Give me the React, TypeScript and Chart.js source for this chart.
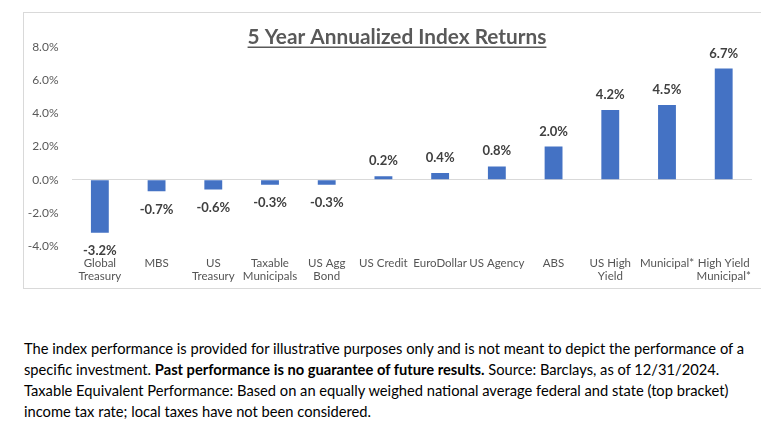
import React, { useEffect, useRef } from "react";
import { Chart, registerables } from "chart.js";

Chart.register(...registerables);

const categories: (string | string[])[] = [
  ["Global", "Treasury"],
  "MBS",
  ["US", "Treasury"],
  ["Taxable", "Municipals"],
  ["US Agg", "Bond"],
  "US Credit",
  "EuroDollar",
  "US Agency",
  "ABS",
  ["US High", "Yield"],
  "Municipal*",
  ["High Yield", "Municipal*"],
];

const returns: number[] = [-3.2, -0.7, -0.6, -0.3, -0.3, 0.2, 0.4, 0.8, 2.0, 4.2, 4.5, 6.7];

const yTicks: number[] = [-4, -2, 0, 2, 4, 6, 8];

const chartTitle = "5 Year Annualized Index Returns";

const FONT = "Lato, 'Noto Sans', sans-serif";

const labelPlugin = {
  id: "valueLabels",
  afterDatasetsDraw(chart: any) {
    const ctx = chart.ctx;
    const meta = chart.getDatasetMeta(0);
    const data = chart.data.datasets[0].data as number[];
    ctx.save();
    ctx.font = `bold 13px ${FONT}`;
    ctx.fillStyle = "#404040";
    ctx.textAlign = "center";
    ctx.textBaseline = "alphabetic";
    meta.data.forEach((bar: any, i: number) => {
      const v = data[i];
      const txt = v.toFixed(1) + "%";
      if (v >= 0) {
        ctx.fillText(txt, bar.x, bar.y - 11);
      } else {
        ctx.fillText(txt, bar.x, bar.y + 22.5);
      }
    });
    ctx.restore();
  },
};

const titlePlugin = {
  id: "ulTitle",
  afterDraw(chart: any) {
    const ctx = chart.ctx;
    ctx.save();
    ctx.font = `bold 20.8px ${FONT}`;
    ctx.fillStyle = "#595959";
    ctx.textAlign = "center";
    ctx.textBaseline = "alphabetic";
    const cx = 373;
    const by = 31;
    ctx.fillText(chartTitle, cx, by);
    const w = ctx.measureText(chartTitle).width;
    ctx.fillRect(cx - w / 2, by + 2.5, w, 1.5);
    ctx.restore();
  },
};

export default function App() {
  const ref = useRef<HTMLCanvasElement | null>(null);

  useEffect(() => {
    if (!ref.current) return;
    const chart = new Chart(ref.current, {
      type: "bar",
      data: {
        labels: categories,
        datasets: [
          {
            data: returns,
            backgroundColor: "#4472C4",
            barPercentage: 0.63,
            categoryPercentage: 0.5,
          },
        ],
      },
      options: {
        animation: false,
        responsive: true,
        maintainAspectRatio: false,
        layout: { padding: { top: 34, right: 5, left: 0, bottom: 0 } },
        plugins: {
          legend: { display: false },
          tooltip: { enabled: false },
          title: { display: false },
        },
        scales: {
          x: {
            grid: { display: false, drawTicks: false },
            border: { display: false },
            afterFit(scale: any) {
              scale.height = 42;
            },
            ticks: {
              color: "#555555",
              font: { family: FONT, size: 11.5, lineHeight: 1.2 },
              padding: 10,
              maxRotation: 0,
              autoSkip: false,
            },
          },
          y: {
            min: -4,
            max: 8,
            afterFit(scale: any) {
              scale.width = 47.5;
            },
            afterBuildTicks(scale: any) {
              scale.ticks = yTicks.map((v) => ({ value: v }));
            },
            grid: {
              drawTicks: false,
              color: (c: any) => (c.tick && c.tick.value === 0 ? "#d9d9d9" : "rgba(0,0,0,0)"),
              lineWidth: 1,
            },
            border: { display: false },
            ticks: {
              color: "#595959",
              font: { family: FONT, size: 12 },
              padding: 13,
              callback: (v: any) => Number(v).toFixed(1) + "%",
            },
          },
        },
      },
      plugins: [labelPlugin, titlePlugin],
    });
    return () => chart.destroy();
  }, []);

  return (
    <div style={{ position: "absolute", left: 0, top: 0, width: 761, height: 432, background: "#fff", overflow: "hidden" }}>
      <div
        style={{
          position: "absolute",
          left: 23,
          top: 12,
          width: 738,
          height: 277,
          boxSizing: "border-box",
          borderTop: "1px solid #d9d9d9",
          borderLeft: "1px solid #d9d9d9",
          borderBottom: "1px solid #d9d9d9",
        }}
      >
        <canvas ref={ref} />
      </div>
      <div
        style={{
          position: "absolute",
          left: 24,
          top: 338,
          width: 737,
          fontFamily: FONT,
          fontSize: 14.7,
          lineHeight: "21px",
          color: "#000",
          whiteSpace: "nowrap",
        }}
      >
        <div>The index performance is provided for illustrative purposes only and is not meant to depict the performance of a</div>
        <div>
          specific investment. <b>Past performance is no guarantee of future results.</b> Source: Barclays, as of 12/31/2024.
        </div>
        <div>Taxable Equivalent Performance: Based on an equally weighed national average federal and state (top bracket)</div>
        <div>income tax rate; local taxes have not been considered.</div>
      </div>
    </div>
  );
}
